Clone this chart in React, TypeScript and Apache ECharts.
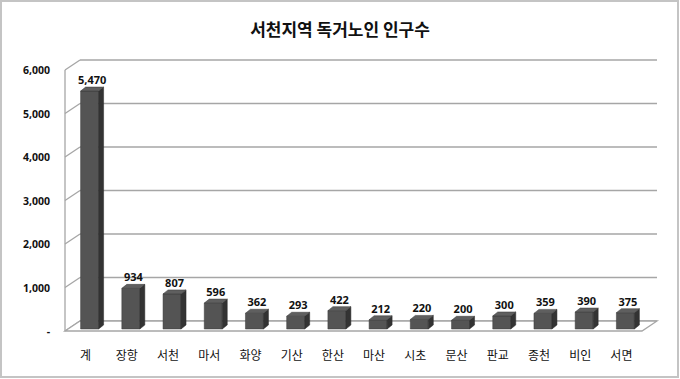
import React, { useEffect, useRef } from "react";
import * as echarts from "echarts";

const titleText = "서천지역 독거노인 인구수";
const categories = ["계", "장항", "서천", "마서", "화양", "기산", "한산", "마산", "시초", "문산", "판교", "종천", "비인", "서면"];
const values = [5470, 934, 807, 596, 362, 293, 422, 212, 220, 200, 300, 359, 390, 375];
const yTicks = [0, 1000, 2000, 3000, 4000, 5000, 6000];

const fmt = (v: number) => v.toLocaleString("en-US");

export default function App() {
  const ref = useRef<HTMLDivElement>(null);
  useEffect(() => {
    if (!ref.current) return;
    const chart = echarts.init(ref.current, undefined, { renderer: "svg" });
    const WDX = 15, WDY = -10; // wall depth
    const BDX = 5, BDY = -4; // bar depth
    const BOX = 4, BOY = -2; // bar front offset
    const HW = 9;
    const option: any = {
      animation: false,
      backgroundColor: "#fff",
      title: {
        text: titleText,
        left: "center",
        top: 15,
        textStyle: { fontFamily: "Noto Sans CJK KR", fontSize: 17, fontWeight: "bold", color: "#111" },
      },
      graphic: [
        { type: "rect", z: 100, shape: { x: 1, y: 1, width: 677, height: 376 }, style: { fill: "none", stroke: "#c4c4c4", lineWidth: 2 } },
      ],
      grid: { left: 65, right: 38, top: 70, bottom: 48 },
      xAxis: {
        type: "category",
        data: categories,
        axisLine: { show: false },
        axisTick: { show: false },
        axisLabel: { interval: 0, margin: 17, fontSize: 12, color: "#111", fontFamily: "Noto Sans CJK KR" },
      },
      yAxis: {
        type: "value",
        min: 0,
        max: 6000,
        interval: 1000,
        splitLine: { show: false },
        axisLine: { show: false },
        axisTick: { show: false },
        axisLabel: {
          margin: 15,
          fontSize: 10.5,
          fontWeight: "bold",
          color: "#111",
          fontFamily: "Noto Sans",
          formatter: (v: number) => (v === 0 ? "-" : fmt(v)),
        },
      },
      series: [
        {
          type: "custom",
          z: 1,
          data: yTicks.map((t) => [0, t]),
          renderItem: (params: any, api: any) => {
            const cs = params.coordSys;
            const x0 = cs.x, w = cs.width;
            const y = api.coord([0, api.value(1)])[1];
            const y0 = api.coord([0, 0])[1];
            const yTop = api.coord([0, 6000])[1];
            const line = { stroke: "#a6a6a6", lineWidth: 1.3 };
            const children: any[] = [
              { type: "line", shape: { x1: x0, y1: y, x2: x0 + WDX, y2: y + WDY }, style: line },
              { type: "line", shape: { x1: x0 + WDX, y1: y + WDY, x2: x0 + w + WDX, y2: y + WDY }, style: line },
            ];
            if (api.value(1) === 0) {
              children.push({
                type: "polygon",
                shape: { points: [[x0, y0], [x0 + w, y0], [x0 + w + WDX, y0 + WDY], [x0 + WDX, y0 + WDY]] },
                style: { fill: "#fff", stroke: "#a6a6a6", lineWidth: 1.3 },
              });
              children.push({ type: "line", shape: { x1: x0, y1: y0, x2: x0, y2: yTop }, style: line });
            }
            return { type: "group", children };
          },
        },
        {
          type: "custom",
          z: 5,
          data: values.map((v, i) => [i, v]),
          renderItem: (params: any, api: any) => {
            const i = api.value(0);
            const v = api.value(1);
            const p = api.coord([i, v]);
            const b = api.coord([i, 0]);
            const L = p[0] + BOX - HW, R = p[0] + BOX + HW;
            const T = p[1] + BOY, B = b[1] + BOY;
            return {
              type: "group",
              children: [
                { type: "rect", shape: { x: L, y: T, width: R - L, height: B - T }, style: { fill: "#545454", stroke: "#3a3a3a", lineWidth: 0.5 } },
                { type: "polygon", shape: { points: [[R, T], [R + BDX, T + BDY], [R + BDX, B + BDY], [R, B]] }, style: { fill: "#333333", stroke: "#2a2a2a", lineWidth: 0.5 } },
                { type: "polygon", shape: { points: [[L, T], [L + BDX, T + BDY], [R + BDX, T + BDY], [R, T]] }, style: { fill: "#5f5f5f", stroke: "#3a3a3a", lineWidth: 0.5 } },
                {
                  type: "text",
                  x: (L + R + BDX) / 2,
                  y: T + BDY - 2,
                  style: {
                    text: fmt(v),
                    fill: "#111",
                    font: "bold 11px 'Noto Sans'",
                    textAlign: "center",
                    textVerticalAlign: "bottom",
                    align: "center",
                    verticalAlign: "bottom",
                  },
                },
              ],
            };
          },
        },
      ],
    };
    chart.setOption(option);
    return () => chart.dispose();
  }, []);
  return (
    <div
      ref={ref}
      style={{ position: "fixed", left: 0, top: 0, width: 680, height: 379, background: "#fff" }}
    />
  );
}
